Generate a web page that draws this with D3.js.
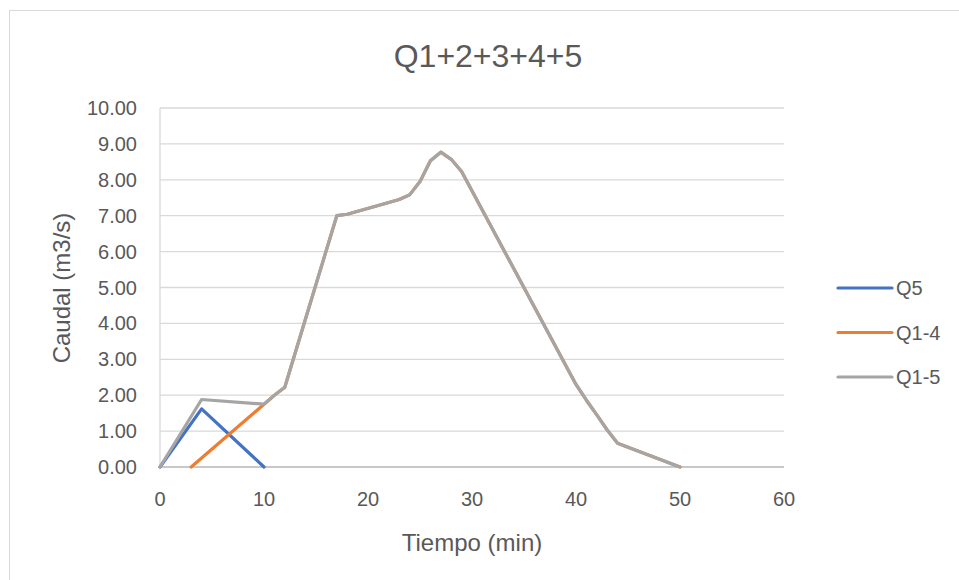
<!DOCTYPE html>
<html>
<head>
<meta charset="utf-8">
<script src="https://cdn.jsdelivr.net/npm/d3@7"></script>
<style>
  body { margin: 0; background: #fff; }
  svg { font-family: "Liberation Sans", Arial, sans-serif; }
</style>
</head>
<body>
<svg id="chart" width="959" height="580"></svg>
<script>
// Data
const q5Time = [0, 4, 10];
const q5Flow = [0, 1.62, 0];

const q14Time = [3, 10, 11, 12, 17, 18, 22, 23, 24, 25, 26, 27, 28, 29, 40, 41, 42, 43, 44, 45, 50];
const q14Flow = [0, 1.75, 2.0, 2.22, 7.0, 7.04, 7.37, 7.45, 7.58, 7.95, 8.53, 8.77, 8.57, 8.23, 2.3, 1.86, 1.45, 1.03, 0.66, 0.55, 0];

const q15Time = [0, 4, 10, 11, 12, 17, 18, 22, 23, 24, 25, 26, 27, 28, 29, 40, 41, 42, 43, 44, 45, 50];
const q15Flow = [0, 1.88, 1.75, 2.0, 2.22, 7.0, 7.04, 7.37, 7.45, 7.58, 7.95, 8.53, 8.77, 8.57, 8.23, 2.3, 1.86, 1.45, 1.03, 0.66, 0.55, 0];

const seriesNames = ["Q5", "Q1-4", "Q1-5"];
const seriesColors = ["#4472C4", "#ED7D31", "#A5A5A5"];
const xTicks = [0, 10, 20, 30, 40, 50, 60];
const yTicks = [0, 1, 2, 3, 4, 5, 6, 7, 8, 9, 10];

const series = [
  q5Time.map((t, i) => [t, q5Flow[i]]),
  q14Time.map((t, i) => [t, q14Flow[i]]),
  q15Time.map((t, i) => [t, q15Flow[i]])
];

const svg = d3.select("#chart");
const textColor = "#595959";

// chart frame
svg.append("rect")
  .attr("x", 9.5).attr("y", 10.5)
  .attr("width", 960).attr("height", 580)
  .attr("fill", "#fff")
  .attr("stroke", "#d9d9d9");

const x = d3.scaleLinear().domain([0, 60]).range([160, 784]);
const y = d3.scaleLinear().domain([0, 10]).range([467, 108]);

// gridlines
svg.append("g")
  .selectAll("line")
  .data(yTicks)
  .join("line")
  .attr("x1", x(0)).attr("x2", x(60))
  .attr("y1", d => y(d)).attr("y2", d => y(d))
  .attr("stroke", "#d9d9d9")
  .attr("stroke-width", 1.3);

// left axis line
svg.append("line")
  .attr("x1", x(0)).attr("x2", x(0))
  .attr("y1", y(0)).attr("y2", y(10))
  .attr("stroke", "#d9d9d9")
  .attr("stroke-width", 1.3);

// bottom axis line
svg.append("line")
  .attr("x1", x(0)).attr("x2", x(60))
  .attr("y1", y(0)).attr("y2", y(0))
  .attr("stroke", "#bfbfbf")
  .attr("stroke-width", 1.3);

// y tick labels
svg.append("g")
  .selectAll("text")
  .data(yTicks)
  .join("text")
  .attr("x", 137)
  .attr("y", d => y(d) + 7)
  .attr("text-anchor", "end")
  .attr("font-size", 20)
  .attr("fill", textColor)
  .text(d => d.toFixed(2));

// x tick labels
svg.append("g")
  .selectAll("text")
  .data(xTicks)
  .join("text")
  .attr("x", d => x(d))
  .attr("y", 506)
  .attr("text-anchor", "middle")
  .attr("font-size", 20)
  .attr("fill", textColor)
  .text(d => d);

// title
svg.append("text")
  .attr("x", 488).attr("y", 67)
  .attr("text-anchor", "middle")
  .attr("font-size", 32)
  .attr("fill", textColor)
  .text("Q1+2+3+4+5");

// axis titles
svg.append("text")
  .attr("x", 472).attr("y", 551)
  .attr("text-anchor", "middle")
  .attr("font-size", 24)
  .attr("fill", textColor)
  .text("Tiempo (min)");

svg.append("text")
  .attr("transform", "translate(70,288) rotate(-90)")
  .attr("text-anchor", "middle")
  .attr("font-size", 24)
  .attr("fill", textColor)
  .text("Caudal (m3/s)");

// lines
const line = d3.line()
  .x(d => x(d[0]))
  .y(d => y(d[1]));

svg.append("g")
  .selectAll("path")
  .data(series)
  .join("path")
  .attr("d", line)
  .attr("fill", "none")
  .attr("stroke", (d, i) => seriesColors[i])
  .attr("stroke-width", 3.2)
  .attr("stroke-linejoin", "round")
  .attr("stroke-linecap", "round");

// legend
const legend = svg.append("g")
  .selectAll("g")
  .data(seriesNames)
  .join("g")
  .attr("transform", (d, i) => `translate(838,${288 + i * 44.5})`);

legend.append("line")
  .attr("x1", 0).attr("x2", 54)
  .attr("stroke", (d, i) => seriesColors[i])
  .attr("stroke-width", 3.2)
  .attr("stroke-linecap", "round");

legend.append("text")
  .attr("x", 58)
  .attr("y", 7)
  .attr("font-size", 20)
  .attr("fill", textColor)
  .text(d => d);
</script>
</body>
</html>
